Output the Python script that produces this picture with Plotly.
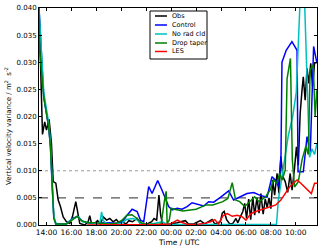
import plotly.graph_objects as go

# ---------------- data (time in hours since 00:00 of day 1; >24 = next day) ----------------
obs_t = [13.40, 13.50, 13.68, 13.86, 14.00, 14.21, 14.40, 14.54, 14.75, 14.94, 15.12, 15.34, 15.60, 15.87,
         16.08, 16.35, 16.54, 16.67, 17.07, 17.34, 17.47, 17.61, 17.87, 18.10, 18.33, 18.55, 18.82, 19.08,
         19.35, 19.60, 19.87, 20.13, 20.40, 20.60, 20.90, 21.27, 21.48, 21.67, 22.07, 22.44, 22.63, 22.84,
         23.02, 23.16, 23.32, 23.70, 24.10, 24.50, 24.74, 25.14, 25.40, 25.80, 26.34, 26.70, 27.28, 27.50,
         27.95, 28.10, 28.25, 28.45, 28.70, 28.95, 29.20, 29.35, 29.55, 29.75, 29.90, 30.05, 30.22, 30.38,
         30.55, 30.70, 30.88, 31.05, 31.20, 31.38, 31.55, 31.70, 31.85, 32.00, 32.15, 32.30, 32.50, 32.65,
         32.80, 32.97, 33.15, 33.35, 33.55, 33.70, 33.90, 34.05, 34.20, 34.35, 34.50, 34.60, 34.75, 34.90,
         35.05, 35.20, 35.35, 35.50, 35.70]
obs_v = [0.0400, 0.0300, 0.0167, 0.0190, 0.0175, 0.0195, 0.0150, 0.0080, 0.0077, 0.0046, 0.0034, 0.0015, 0.0006, 0.0003,
         0.0015, 0.0043, 0.0018, 0.0003, 0.0000, 0.0006, 0.0017, 0.0003, 0.0003, 0.0008, 0.0002, 0.0015, 0.0009, 0.0012,
         0.0006, 0.0010, 0.0003, 0.0005, 0.0002, 0.0008, 0.0006, 0.0012, 0.0004, 0.0000, 0.0002, 0.0006, 0.0012, 0.0009,
         0.0055, 0.0018, 0.0000, 0.0001, 0.0002, 0.0004, 0.0006, 0.0008, 0.0002, 0.0002, 0.0008, 0.0002, 0.0010, 0.0002,
         0.0006, 0.0022, 0.0025, 0.0010, 0.0002, 0.0003, 0.0012, 0.0004, 0.0015, 0.0025, 0.0040, 0.0012, 0.0048, 0.0010,
         0.0052, 0.0018, 0.0050, 0.0022, 0.0058, 0.0020, 0.0048, 0.0032, 0.0050, 0.0030, 0.0083, 0.0055, 0.0095, 0.0058,
         0.0126, 0.0089, 0.0080, 0.0060, 0.0095, 0.0064, 0.0105, 0.0144, 0.0110, 0.0206, 0.0249, 0.0273, 0.0230, 0.0289,
         0.0261, 0.0298, 0.0255, 0.0298, 0.0300]

ctl_t = [13.40, 13.78, 14.18, 14.32, 14.46, 14.59, 14.75, 15.60, 16.10, 16.50, 16.90, 17.50, 18.00, 18.50, 19.00,
         19.60, 20.07, 20.47, 20.87, 21.27, 21.54, 21.80, 22.20, 22.47, 22.92, 23.27, 23.54, 23.80, 24.08, 24.48,
         24.88, 25.28, 25.68, 26.21, 26.61, 27.01, 27.41, 27.95, 28.61, 29.01, 29.55, 30.09, 30.62, 31.10, 31.69,
         32.09, 32.36, 32.62, 32.81, 32.89, 33.23, 33.69, 34.10, 34.18, 34.60, 34.90, 35.16, 35.43, 35.70]
ctl_v = [0.0400, 0.0236, 0.0180, 0.0144, 0.0070, 0.0013, 0.0002, 0.0002, 0.0012, 0.0016, 0.0007, 0.0003, 0.0003, 0.0004, 0.0004,
         0.0003, 0.0006, 0.0018, 0.0029, 0.0025, 0.0009, 0.0006, 0.0071, 0.0058, 0.0082, 0.0064, 0.0049, 0.0034, 0.0028, 0.0031,
         0.0029, 0.0034, 0.0041, 0.0038, 0.0035, 0.0043, 0.0042, 0.0051, 0.0063, 0.0046, 0.0052, 0.0058, 0.0060, 0.0055, 0.0051,
         0.0089, 0.0083, 0.0071, 0.0126, 0.0300, 0.0322, 0.0338, 0.0322, 0.0098, 0.0098, 0.0163, 0.0135, 0.0329, 0.0298]

nrc_t = [13.40, 13.78, 14.18, 14.32, 14.46, 14.59, 14.80, 15.60, 16.00, 16.50, 16.90, 17.50, 18.00, 18.30, 18.42,
         18.55, 18.80, 19.40, 20.00, 20.40, 20.90, 21.30, 21.60, 22.20, 22.80, 23.30, 23.60, 24.20, 28.00, 32.45,
         32.60, 32.80, 33.10, 33.40, 33.75, 34.04, 34.32, 34.55, 34.72, 34.90, 35.10, 35.30, 35.50, 35.70]
nrc_v = [0.0400, 0.0245, 0.0188, 0.0152, 0.0080, 0.0015, 0.0001, 0.0002, 0.0010, 0.0016, 0.0006, 0.0004, 0.0003, 0.0005, 0.0024,
         0.0008, 0.0003, 0.0002, 0.0003, 0.0010, 0.0012, 0.0009, 0.0002, 0.0001, 0.0004, 0.0006, 0.0002, 0.0001, 0.0001, 0.0001,
         0.0046, 0.0075, 0.0120, 0.0165, 0.0200, 0.0245, 0.0400, 0.0530, 0.0400, 0.0245, 0.0125, 0.0140, 0.0130, 0.0150]

drp_t = [13.40, 13.46, 13.78, 14.18, 14.32, 14.46, 14.59, 14.75, 15.60, 16.10, 16.45, 16.80, 17.30, 17.90, 18.40,
         19.00, 19.60, 20.07, 20.45, 20.85, 21.27, 21.60, 22.00, 22.60, 23.20, 23.47, 23.60, 23.68, 23.85, 24.00,
         24.27, 24.94, 25.48, 26.00, 26.40, 26.81, 27.34, 27.75, 28.15, 28.55, 28.90, 29.17, 29.50, 29.90, 30.30,
         30.70, 31.05, 31.58, 31.96, 32.20, 32.49, 32.70, 32.90, 33.15, 33.30, 33.45, 33.57, 33.72, 33.90, 34.20,
         34.50, 34.80, 35.00, 35.15, 35.40, 35.55, 35.70]
drp_v = [0.0400, 0.0320, 0.0236, 0.0180, 0.0144, 0.0070, 0.0013, 0.0002, 0.0002, 0.0010, 0.0016, 0.0008, 0.0004, 0.0004, 0.0003,
         0.0002, 0.0003, 0.0009, 0.0018, 0.0019, 0.0012, 0.0004, 0.0001, 0.0001, 0.0002, 0.0046, 0.0062, 0.0003, 0.0009, 0.0031,
         0.0029, 0.0026, 0.0027, 0.0029, 0.0033, 0.0037, 0.0037, 0.0040, 0.0043, 0.0049, 0.0078, 0.0046, 0.0043, 0.0034, 0.0043,
         0.0052, 0.0043, 0.0052, 0.0065, 0.0083, 0.0077, 0.0095, 0.0083, 0.0101, 0.0270, 0.0289, 0.0307, 0.0120, 0.0070, 0.0080,
         0.0120, 0.0145, 0.0130, 0.0286, 0.0295, 0.0200, 0.0250]

les_t = [17.26, 18.50, 20.00, 21.50, 23.00, 23.94, 24.50, 24.74, 25.30, 26.00, 26.70, 27.15, 27.50, 27.80, 28.15,
         28.50, 28.90, 29.30, 29.70, 30.00, 30.40, 30.80, 31.20, 31.60, 32.00, 32.40, 32.80, 33.15, 33.50, 33.80,
         34.10, 34.40, 34.70, 35.00, 35.25, 35.50, 35.70]
les_v = [0.0000, 0.0000, 0.0000, 0.0000, 0.0001, 0.0002, 0.0009, 0.0006, 0.0001, 0.0001, 0.0003, 0.0006, 0.0010, 0.0002, 0.0017,
         0.0021, 0.0016, 0.0018, 0.0015, 0.0009, 0.0021, 0.0025, 0.0028, 0.0031, 0.0034, 0.0037, 0.0046, 0.0058, 0.0070, 0.0077,
         0.0083, 0.0077, 0.0070, 0.0064, 0.0058, 0.0077, 0.0077]

series_names = ["Obs", "Control", "No rad cld", "Drop taper", "LES"]
series_colors = ["#000000", "#0000ff", "#00bfbf", "#008000", "#ff0000"]

tick_vals = [14, 16, 18, 20, 22, 24, 26, 28, 30, 32, 34]
tick_text = ["14:00", "16:00", "18:00", "20:00", "22:00", "00:00", "02:00", "04:00", "06:00", "08:00", "10:00"]
y_ticks = [0.000, 0.005, 0.010, 0.015, 0.020, 0.025, 0.030, 0.035, 0.040]

ref_dotted = 0.010
ref_dashed = 0.005
x_range = [13.40, 35.70]
y_range = [0.0, 0.040]

# ---------------- figure ----------------
W, H = 320, 250
ML, MR, MT, MB = 39, 3, 8, 25
PW, PH = W - ML - MR, H - MT - MB


def px(x):  # pixel column -> paper x
    return (x - ML) / PW


def py(y):  # pixel row -> paper y
    return (H - MB - y) / PH


fig = go.Figure()

fig.add_trace(go.Scatter(x=x_range, y=[ref_dotted, ref_dotted], mode="lines",
                         line=dict(color="#999999", width=1.2, dash="dot"), showlegend=False, hoverinfo="skip"))
fig.add_trace(go.Scatter(x=x_range, y=[ref_dashed, ref_dashed], mode="lines",
                         line=dict(color="#555555", width=1.2, dash="dash"), showlegend=False, hoverinfo="skip"))

for name, color, t, v in zip(series_names, series_colors,
                             [obs_t, ctl_t, nrc_t, drp_t, les_t],
                             [obs_v, ctl_v, nrc_v, drp_v, les_v]):
    fig.add_trace(go.Scatter(x=t, y=v, mode="lines", name=name, showlegend=False,
                             line=dict(color=color, width=1.5)))

# compact legend box (matplotlib style)
shapes = [dict(type="rect", xref="paper", yref="paper", x0=px(150), x1=px(207), y0=py(59), y1=py(11),
               line=dict(color="#000000", width=1), fillcolor="white", layer="above")]
annotations = []
entry_rows = [16, 25, 34, 43, 51.5]
for name, color, row in zip(series_names, series_colors, entry_rows):
    shapes.append(dict(type="line", xref="paper", yref="paper", x0=px(155), x1=px(167), y0=py(row), y1=py(row),
                       line=dict(color=color, width=1.5), layer="above"))
    annotations.append(dict(text=name, xref="paper", yref="paper", x=px(170), y=py(row), xanchor="left",
                            yanchor="middle", showarrow=False, font=dict(size=6.5, color="#000000")))

annotations.append(dict(text="Time / UTC", xref="paper", yref="paper", x=px(179), y=py(242),
                        xanchor="center", yanchor="middle", showarrow=False, font=dict(size=7.5)))
annotations.append(dict(text="Vertical velocity variance / m<sup>2</sup>  s<sup>-2</sup>", xref="paper", yref="paper",
                        x=px(8), y=py(126), xanchor="center", yanchor="middle", textangle=-90,
                        showarrow=False, font=dict(size=7)))

axis_common = dict(showline=True, linecolor="#000000", linewidth=1, mirror="ticks",
                   ticks="inside", ticklen=3, tickcolor="#000000", showgrid=False, zeroline=False,
                   automargin=False)

fig.update_layout(
    width=W, height=H,
    margin=dict(l=ML, r=MR, t=MT, b=MB),
    paper_bgcolor="white", plot_bgcolor="white",
    font=dict(family="DejaVu Sans", size=7, color="#000000"),
    xaxis=dict(range=x_range, tickvals=tick_vals, ticktext=tick_text,
               tickfont=dict(size=7.5), **axis_common),
    yaxis=dict(range=y_range, tickvals=y_ticks, tickformat=".3f",
               tickfont=dict(size=7), **axis_common),
    shapes=shapes, annotations=annotations,
    showlegend=False, hovermode=False,
)

fig.write_html("out.html", config={"displayModeBar": False, "staticPlot": True},
               post_script="document.body.style.margin='0';document.body.style.overflow='hidden';")
